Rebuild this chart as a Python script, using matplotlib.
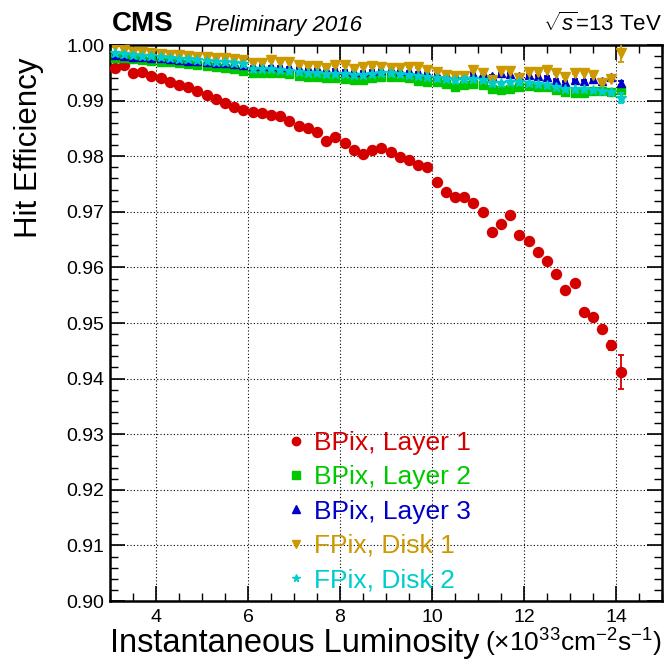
import matplotlib
matplotlib.use('Agg')
import matplotlib.pyplot as plt
from matplotlib.ticker import MultipleLocator, FormatStrFormatter
from matplotlib.lines import Line2D

plt.rcParams['font.family'] = ['Liberation Sans', 'DejaVu Sans']
plt.rcParams['mathtext.fontset'] = 'custom'
plt.rcParams['mathtext.rm'] = 'Liberation Sans'
plt.rcParams['mathtext.it'] = 'Liberation Sans:italic'
plt.rcParams['mathtext.bf'] = 'Liberation Sans:bold'

# ---------------- data ----------------
lumi = [3.1, 3.3, 3.5, 3.7, 3.9, 4.1, 4.3, 4.5, 4.7, 4.9,
        5.1, 5.3, 5.5, 5.7, 5.9, 6.1, 6.3, 6.5, 6.7, 6.9,
        7.1, 7.3, 7.5, 7.7, 7.9, 8.1, 8.3, 8.5, 8.7, 8.9,
        9.1, 9.3, 9.5, 9.7, 9.9, 10.1, 10.3, 10.5, 10.7, 10.9,
        11.1, 11.3, 11.5, 11.7, 11.9, 12.1, 12.3, 12.5, 12.7, 12.9,
        13.1, 13.3, 13.5, 13.7, 13.9, 14.1]

bpix_l1 = [0.99582, 0.99641, 0.99492, 0.99520, 0.99443, 0.99400, 0.99341, 0.99282, 0.99240, 0.99174,
           0.99100, 0.99025, 0.98953, 0.98892, 0.98833, 0.98800, 0.98770, 0.98750, 0.98720, 0.98630,
           0.98540, 0.98500, 0.98440, 0.98282, 0.98342, 0.98246, 0.98115, 0.98037, 0.98115, 0.98140,
           0.98073, 0.97990, 0.97935, 0.97833, 0.97798, 0.97535, 0.97355, 0.97259, 0.97259, 0.97158,
           0.96989, 0.96630, 0.96786, 0.96948, 0.96583, 0.96469, 0.96271, 0.96122, 0.95883, 0.95601,
           0.95715, 0.95194, 0.95104, 0.94901, 0.94601, 0.94117]
bpix_l1_err = [0.0001, 0.0001, 0.0001, 0.0001, 0.0001, 0.0001, 0.0001, 0.0001, 0.0001, 0.0001,
               0.0001, 0.0001, 0.0001, 0.0001, 0.0001, 0.0001, 0.0001, 0.0001, 0.0001, 0.0001,
               0.0001, 0.0001, 0.0001, 0.0001, 0.0001, 0.0001, 0.0001, 0.0001, 0.0001, 0.0001,
               0.0001, 0.0001, 0.0001, 0.0001, 0.0001, 0.0001, 0.0001, 0.0001, 0.0001, 0.0001,
               0.0002, 0.0002, 0.0002, 0.0002, 0.0002, 0.0002, 0.0002, 0.0002, 0.0002, 0.0002,
               0.0002, 0.0003, 0.0003, 0.0004, 0.0008, 0.0030]

bpix_l2 = [0.9977, 0.9976, 0.9974, 0.9973, 0.9972, 0.9970, 0.9969, 0.9967, 0.9966, 0.9964,
           0.9962, 0.9960, 0.9958, 0.9956, 0.9953, 0.9950, 0.9950, 0.9949, 0.9950, 0.9947,
           0.9944, 0.9943, 0.9942, 0.9940, 0.9941, 0.9939, 0.9937, 0.9937, 0.9940, 0.9942,
           0.9943, 0.9942, 0.9941, 0.9936, 0.9934, 0.9933, 0.9930, 0.9924, 0.9928, 0.9929,
           0.9928, 0.9920, 0.9919, 0.9920, 0.9925, 0.9926, 0.9925, 0.9925, 0.9919, 0.9916,
           0.9914, 0.9914, 0.9918, 0.9918, 0.9916, 0.9919]
bpix_l2_err = [0.0001] * 50 + [0.0001, 0.0001, 0.0001, 0.0001, 0.0001, 0.0003]

bpix_l3 = [0.9982, 0.9981, 0.9978, 0.9979, 0.9977, 0.9976, 0.9974, 0.9973, 0.9972, 0.9971,
           0.9970, 0.9968, 0.9967, 0.9966, 0.9964, 0.9962, 0.9963, 0.9962, 0.9961, 0.9960,
           0.9959, 0.9958, 0.9958, 0.9956, 0.9955, 0.9954, 0.9952, 0.9952, 0.9954, 0.9955,
           0.9956, 0.9954, 0.9953, 0.9951, 0.9949, 0.9948, 0.9947, 0.9946, 0.9946, 0.9948,
           0.9949, 0.9945, 0.9949, 0.9948, 0.9944, 0.9946, 0.9945, 0.9943, 0.9937, 0.9934,
           0.9937, 0.9936, 0.9938, 0.9935, 0.9943, 0.9932]
bpix_l3_err = [0.0001] * 50 + [0.0001, 0.0001, 0.0001, 0.0001, 0.0002, 0.0004]

fpix_d1 = [0.9998, 0.9991, 0.9988, 0.9987, 0.9985, 0.9984, 0.9982, 0.9982, 0.9980, 0.9979,
           0.9978, 0.9976, 0.9976, 0.9974, 0.9973, 0.9968, 0.9968, 0.9973, 0.9970, 0.9970,
           0.9964, 0.9962, 0.9962, 0.9958, 0.9964, 0.9964, 0.9956, 0.9961, 0.9962, 0.9960,
           0.9958, 0.9958, 0.9961, 0.9960, 0.9955, 0.9952, 0.9946, 0.9944, 0.9945, 0.9955,
           0.9949, 0.9937, 0.9954, 0.9954, 0.9940, 0.9951, 0.9952, 0.9955, 0.9949, 0.9943,
           0.9949, 0.9950, 0.9946, 0.9931, 0.9938, 0.9985]
fpix_d1_err = [0.0001] * 50 + [0.0001, 0.0001, 0.0002, 0.0002, 0.0003, 0.0016]

fpix_d2 = [0.9986, 0.9984, 0.9982, 0.9981, 0.9980, 0.9978, 0.9977, 0.9975, 0.9974, 0.9973,
           0.9972, 0.9970, 0.9969, 0.9968, 0.9966, 0.9957, 0.9957, 0.9956, 0.9955, 0.9954,
           0.9951, 0.9950, 0.9949, 0.9948, 0.9948, 0.9947, 0.9946, 0.9946, 0.9948, 0.9949,
           0.9949, 0.9947, 0.9946, 0.9945, 0.9943, 0.9941, 0.9939, 0.9937, 0.9938, 0.9938,
           0.9937, 0.9932, 0.9931, 0.9933, 0.9934, 0.9932, 0.9930, 0.9928, 0.9924, 0.9920,
           0.9921, 0.9920, 0.9919, 0.9917, 0.9916, 0.9904]
fpix_d2_err = [0.0001] * 50 + [0.0001, 0.0001, 0.0001, 0.0002, 0.0002, 0.0009]

labels = ['BPix, Layer 1', 'BPix, Layer 2', 'BPix, Layer 3', 'FPix, Disk 1', 'FPix, Disk 2']
colors = ['#d40000', '#00c800', '#0000c8', '#cc9900', '#00cccc']
markers = ['o', 's', '^', 'v', '*']
msizes = [7.2, 5.5, 6.0, 6.5, 7.5]
leg_msizes = [6.0, 5.5, 5.5, 5.5, 5.5]

x_ticks = [4, 6, 8, 10, 12, 14]
y_ticks = [0.90, 0.91, 0.92, 0.93, 0.94, 0.95, 0.96, 0.97, 0.98, 0.99, 1.00]

# ---------------- figure ----------------
W, H = 665, 662
fig = plt.figure(figsize=(W / 100, H / 100), dpi=100)
ax = fig.add_axes([110 / W, 1 - 601 / H, 552 / W, 556 / H])

series = [(bpix_l1, bpix_l1_err), (bpix_l2, bpix_l2_err), (bpix_l3, bpix_l3_err),
          (fpix_d1, fpix_d1_err), (fpix_d2, fpix_d2_err)]
for k, (yv, ye) in enumerate(series):
    ax.errorbar(lumi, yv, yerr=ye, fmt=markers[k], color=colors[k], mfc=colors[k],
                mec=colors[k], ms=msizes[k], elinewidth=1.3, capsize=2.2, capthick=1.3,
                zorder=3 + k)

ax.set_xlim(3, 15)
ax.set_ylim(0.90, 1.00)
ax.set_xticks(x_ticks)
ax.set_yticks(y_ticks)
ax.xaxis.set_minor_locator(MultipleLocator(0.5))
ax.yaxis.set_minor_locator(MultipleLocator(0.002))
ax.yaxis.set_major_formatter(FormatStrFormatter('%.2f'))
ax.tick_params(which='both', direction='in', top=True, right=True, colors='black')
ax.tick_params(which='major', length=11, width=1.2, labelsize=14, pad=4)
ax.tick_params(which='minor', length=5.5, width=1.0)
ax.tick_params(axis='x', which='major', pad=6)
for s in ax.spines.values():
    s.set_linewidth(1.8)
ax.grid(True, which='major', color='black', linestyle=(0, (1, 2)), linewidth=0.8)
ax.set_axisbelow(True)

# legend
handles = [Line2D([], [], linestyle='none', marker=markers[k], color=colors[k],
                  ms=leg_msizes[k]) for k in range(5)]
leg = fig.legend(handles, labels, loc='upper left', bbox_to_anchor=(288 / W, 1 - 431 / H),
                 frameon=False, fontsize=19, handlelength=0.6, handletextpad=0.4,
                 labelspacing=0.39, borderpad=0, borderaxespad=0, labelcolor=colors)

# header texts
fig.text(112 / W, 1 - 31 / H, 'CMS', fontsize=20, fontweight='bold', ha='left', va='baseline')
fig.text(195 / W, 1 - 31 / H, 'Preliminary 2016', fontsize=16, fontstyle='italic',
         ha='left', va='baseline')
fig.text(662 / W, 1 - 31 / H, r'$\sqrt{s}$=13 TeV', fontsize=16, ha='right', va='baseline')

# axis titles
fig.text(29 / W, 1 - 58 / H, 'Hit Efficiency', fontsize=22.5, rotation=90, ha='center', va='top')
t2 = fig.text(662 / W, 1 - 652 / H, r'($\times$10$^{33}$cm$^{-2}$s$^{-1}$)', fontsize=19,
              ha='right', va='baseline')
fig.canvas.draw()
bb = t2.get_window_extent()
fig.text((bb.x0 - 6) / W, 1 - 652 / H, 'Instantaneous Luminosity', fontsize=23.5,
         ha='right', va='baseline')

fig.savefig('out.png', dpi=100)
